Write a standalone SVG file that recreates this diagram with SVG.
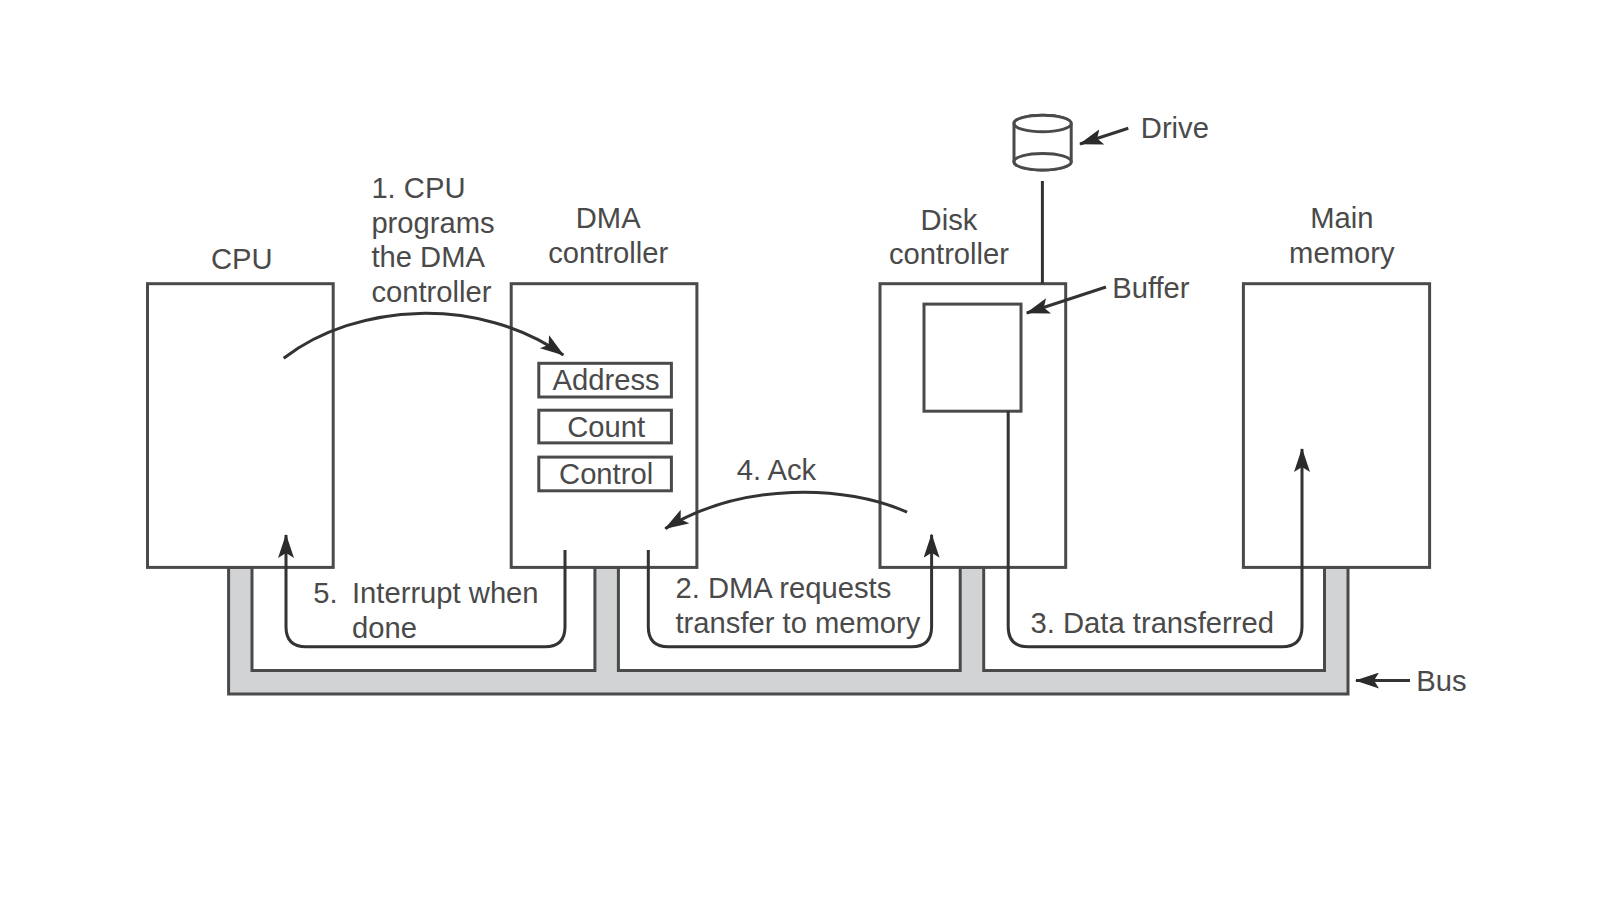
<svg xmlns="http://www.w3.org/2000/svg" width="1600" height="900" viewBox="0 0 1600 900">
<defs>
<marker id="ah" viewBox="0 0 24 16" refX="23" refY="8" markerUnits="userSpaceOnUse" markerWidth="24" markerHeight="16" orient="auto"><path d="M0 0L24 8L0 16L5 8Z" fill="#2b2b2b"/></marker>
</defs>
<style>
text{font-family:"Liberation Sans",Arial,sans-serif;font-size:29.200px;fill:#4a4a4a}
.b{fill:#fff;stroke:#4a4a4a;stroke-width:3}
.c{fill:none;stroke:#333;stroke-width:3}
.a{marker-end:url(#ah)}
</style>
<rect width="1600" height="900" fill="#fff"/>
<g id="bus"><path d="M228.600 567.300V693.900H1348V567.300H1324.500V670.400H983.700V567.300H960.200V670.400H618.400V567.300H594.900V670.400H252V567.300Z" fill="#d1d3d4" stroke="#4a4a4a" stroke-width="3"/></g>
<g id="cpu"><rect class="b" x="147.500" y="283.700" width="185.700" height="283.700"/><text x="211" y="269">CPU</text></g>
<g id="dma"><rect class="b" x="511.200" y="283.700" width="185.700" height="283.700"/><text x="608.200" y="227.600" text-anchor="middle">DMA</text><text x="608.200" y="263.200" text-anchor="middle">controller</text>
<g id="address"><rect class="b" x="538.800" y="363.300" width="132.600" height="33.700"/><text x="606.100" y="389.800" text-anchor="middle">Address</text></g>
<g id="count"><rect class="b" x="538.800" y="410.200" width="132.600" height="32.700"/><text x="606.100" y="436.700" text-anchor="middle">Count</text></g>
<g id="control"><rect class="b" x="538.800" y="457.100" width="132.600" height="33.700"/><text x="606.100" y="483.700" text-anchor="middle">Control</text></g></g>
<g id="disk"><rect class="b" x="880" y="283.700" width="185.700" height="283.700"/><text x="949" y="229.600" text-anchor="middle">Disk</text><text x="949" y="264.300" text-anchor="middle">controller</text>
<g id="buffer"><rect class="b" x="924" y="304.100" width="97" height="107.100"/><text x="1112.200" y="298">Buffer</text></g></g>
<g id="memory"><rect class="b" x="1243.400" y="283.700" width="186.200" height="283.700"/><text x="1341.800" y="227.600" text-anchor="middle">Main</text><text x="1341.800" y="263.200" text-anchor="middle">memory</text></g>
<g id="drive"><path class="b" d="M1014 123.500V161.700A28.600 8.300 0 0 0 1071.200 161.700V123.500A28.600 8.300 0 0 0 1014 123.500Z"/><ellipse class="b" cx="1042.600" cy="123.500" rx="28.600" ry="8.300"/><ellipse class="b" cx="1042.600" cy="161.700" rx="28.600" ry="8.300"/><text x="1140.800" y="137.700">Drive</text></g>
<g id="connectors">
<path class="c" d="M1042.400 181V283.700"/>
<path class="c a" d="M1128.300 128.300L1080 144"/>
<path class="c a" d="M1106 287L1026.700 313"/>
<path class="c a" d="M1410 680.600H1356"/>
<path class="c a" d="M283.700 358.200C357 302 479.600 296 563.300 355"/>
<path class="c a" d="M907.100 512.200C846 484.700 742 481.600 665.300 528.600"/>
<path class="c a" d="M565 550V626.700Q565 646.700 545 646.700H306Q286 646.700 286 626.700V535"/>
<path class="c a" d="M648.300 550V626.700Q648.300 646.700 668.300 646.700H911.600Q931.600 646.700 931.600 626.700V534.700"/>
<path class="c a" d="M1008.200 411.200V626.700Q1008.200 646.700 1028.200 646.700H1282Q1302 646.700 1302 626.700V449"/>
</g>
<g id="labels">
<text x="371.400" y="198">1. CPU</text><text x="371.400" y="232.600">programs</text><text x="371.400" y="267.300">the DMA</text><text x="371.400" y="302">controller</text>
<text x="736.700" y="479.600">4. Ack</text>
<text x="313.300" y="603">5.</text><text x="352" y="603">Interrupt when</text><text x="352" y="637.700">done</text>
<text x="675.500" y="598">2. DMA requests</text><text x="675.500" y="632.600">transfer to memory</text>
<text x="1030.600" y="632.600">3. Data transferred</text>
<text x="1416.300" y="690.800">Bus</text>
</g>
</svg>
